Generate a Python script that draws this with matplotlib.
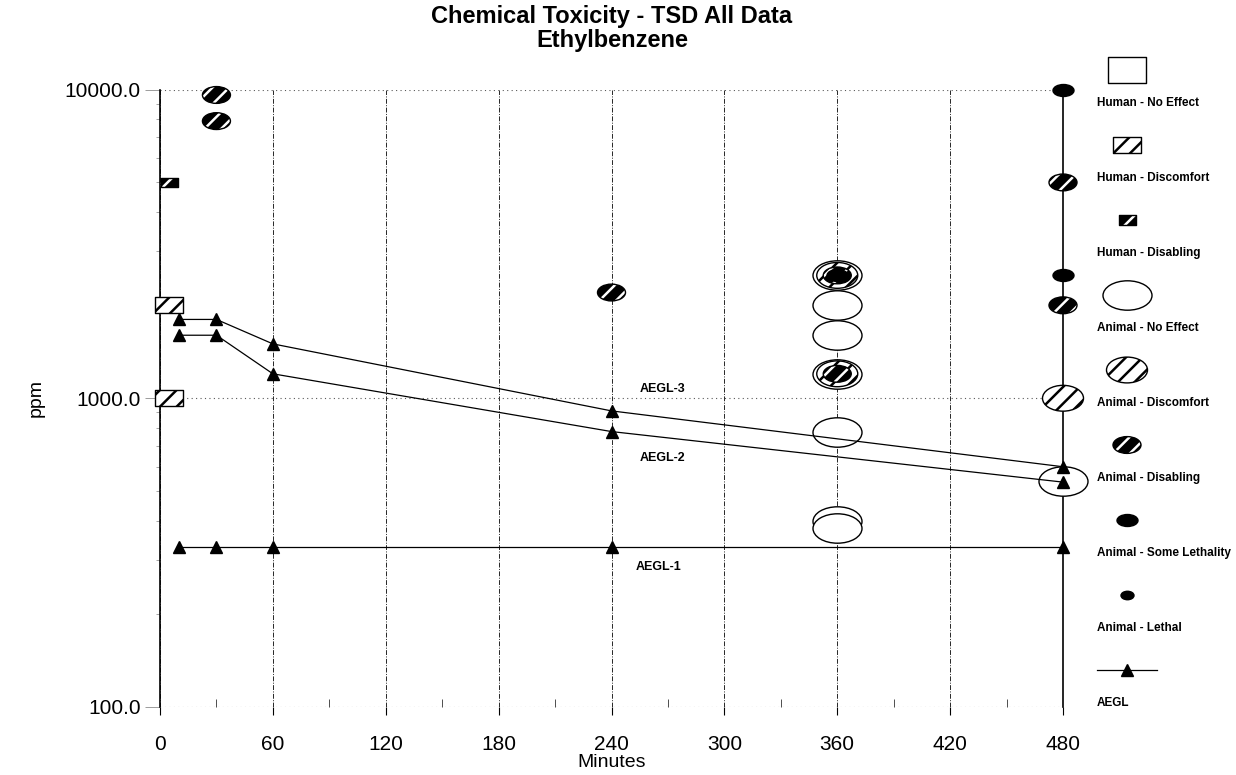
import numpy as np
import matplotlib
matplotlib.use("Agg")
import matplotlib.pyplot as plt
from matplotlib.path import Path
from matplotlib.ticker import FixedLocator, FuncFormatter, LogLocator, NullFormatter

plt.rcParams['font.family'] = ['Liberation Sans', 'DejaVu Sans']
plt.rcParams['hatch.linewidth'] = 1.8

# AEGL levels (ppm) by exposure time (minutes)
aegl_minutes = [10, 30, 60, 240, 480]
aegl_1 = [330, 330, 330, 330, 330]
aegl_2 = [1600, 1600, 1200, 780, 535]
aegl_3 = [1800, 1800, 1500, 910, 600]

# toxicity observations, minutes and ppm per category
human_noeffect_min = []
human_noeffect_ppm = []
human_discomfort_min = [5, 5]
human_discomfort_ppm = [2000, 1000]
human_disabling_min = [5]
human_disabling_ppm = [5000]
animal_noeffect_min = [360, 360, 360, 360, 360, 360, 360, 480]
animal_noeffect_ppm = [2500, 2000, 1600, 1200, 780, 400, 380, 540]
animal_discomfort_min = [360, 360, 480]
animal_discomfort_ppm = [2500, 1200, 1000]
animal_disabling_min = [30, 30, 240, 360, 360, 480, 480]
animal_disabling_ppm = [9600, 7900, 2200, 2500, 1200, 5000, 2000]
animal_somelethal_min = [360, 480, 480]
animal_somelethal_ppm = [2500, 10000, 2500]
animal_lethal_min = []
animal_lethal_ppm = []

PX = 72 / 100  # points per pixel at dpi 100


def ellipse_marker(aspect):
    c = Path.unit_circle()
    return Path(c.vertices * [1, aspect], c.codes)


def rect_marker(aspect):
    v = [[-1, -aspect], [1, -aspect], [1, aspect], [-1, aspect], [-1, -aspect]]
    return Path(v, [Path.MOVETO, Path.LINETO, Path.LINETO, Path.LINETO, Path.CLOSEPOLY])


styles = {
    'Human - No Effect': dict(path=rect_marker(0.66), w=38, face='white'),
    'Human - Discomfort': dict(path=rect_marker(0.57), w=28, face='white', hatch='//', hcol='black'),
    'Human - Disabling': dict(path=rect_marker(0.53), w=17, face='black', hatch='//', hcol='white'),
    'Animal - No Effect': dict(path=ellipse_marker(0.6), w=49, face='white'),
    'Animal - Discomfort': dict(path=ellipse_marker(0.63), w=41, face='white', hatch='//', hcol='black'),
    'Animal - Disabling': dict(path=ellipse_marker(0.6), w=28, face='black', hatch='//', hcol='white'),
    'Animal - Some Lethality': dict(path=ellipse_marker(0.57), w=21, face='black'),
    'Animal - Lethal': dict(path=ellipse_marker(0.65), w=13, face='black'),
}

series = [
    ('Human - No Effect', human_noeffect_min, human_noeffect_ppm),
    ('Human - Discomfort', human_discomfort_min, human_discomfort_ppm),
    ('Human - Disabling', human_disabling_min, human_disabling_ppm),
    ('Animal - No Effect', animal_noeffect_min, animal_noeffect_ppm),
    ('Animal - Discomfort', animal_discomfort_min, animal_discomfort_ppm),
    ('Animal - Disabling', animal_disabling_min, animal_disabling_ppm),
    ('Animal - Some Lethality', animal_somelethal_min, animal_somelethal_ppm),
    ('Animal - Lethal', animal_lethal_min, animal_lethal_ppm),
]


def draw_marks(ax, xs, ys, st, z):
    s = (st['w'] * PX) ** 2
    if st.get('hatch'):
        ax.scatter(xs, ys, s=s, marker=st['path'], facecolor=st['face'],
                   edgecolor=st['hcol'], hatch=st['hatch'], linewidth=0,
                   zorder=z, clip_on=False)
        face = 'none'
    else:
        face = st['face']
    ax.scatter(xs, ys, s=s, marker=st['path'], facecolor=face,
               edgecolor='black', linewidth=1.0, zorder=z + 0.1, clip_on=False)


fig = plt.figure(figsize=(12.36, 7.75), dpi=100)
ax = fig.add_axes([160 / 1236, 1 - 707 / 775, 903 / 1236, (707 - 89.5) / 775])

ax.set_yscale('log')
ax.set_xlim(0, 480)
ax.set_ylim(100, 10000)

for i, (name, xs, ys) in enumerate(series):
    draw_marks(ax, xs, ys, styles[name], 3 + i * 0.2)

for vals in (aegl_1, aegl_2, aegl_3):
    ax.plot(aegl_minutes, vals, color='black', lw=0.9, marker='^', ms=9,
            zorder=6, clip_on=False)

ax.text(267, 1072, 'AEGL-3', ha='center', va='center', fontsize=9, fontweight='bold')
ax.text(267, 640, 'AEGL-2', ha='center', va='center', fontsize=9, fontweight='bold')
ax.text(265, 284, 'AEGL-1', ha='center', va='center', fontsize=9, fontweight='bold')

# axes frame: only left and right sides drawn
for side in ('top', 'bottom'):
    ax.spines[side].set_visible(False)
for side in ('left', 'right'):
    ax.spines[side].set_color('black')
    ax.spines[side].set_linewidth(1.2)

ax.xaxis.set_major_locator(FixedLocator(range(0, 481, 60)))
ax.xaxis.set_minor_locator(FixedLocator(range(30, 481, 60)))
ax.yaxis.set_major_locator(FixedLocator([100, 1000, 10000]))
ax.yaxis.set_major_formatter(FuncFormatter(lambda v, _: f"{v:.1f}"))
ax.yaxis.set_minor_locator(LogLocator(base=10, subs=range(2, 10)))
ax.yaxis.set_minor_formatter(NullFormatter())

ax.tick_params(axis='x', which='major', direction='out', length=6, width=0.8,
               pad=14, labelsize=15, colors='black')
ax.tick_params(axis='x', which='minor', direction='in', length=6, width=0.7,
               color='0.3')
ax.tick_params(axis='y', which='major', direction='out', length=11, width=0.6,
               pad=3, labelsize=15, color='0.55', labelcolor='black')
ax.tick_params(axis='y', which='minor', direction='out', length=3, width=0.5,
               color='0.5')

ax.set_axisbelow(True)
ax.grid(axis='y', which='major', linestyle=(0, (1, 3)), color='0.35', lw=0.8)
ax.grid(axis='x', which='major', linestyle=(0, (5, 1.5, 1, 1.5)), color='0.15', lw=0.7)

ax.set_xlabel('Minutes', fontsize=14, labelpad=0)
ax.set_ylabel('ppm', fontsize=14, labelpad=14)

fig.text(612 / 1236, 1 - 16 / 775, 'Chemical Toxicity - TSD All Data',
         ha='center', va='center', fontsize=17, fontweight='bold')
fig.text(612 / 1236, 1 - 40 / 775, 'Ethylbenzene',
         ha='center', va='center', fontsize=17, fontweight='bold')

# legend column on the right, in pixel coordinates
lax = fig.add_axes([0, 0, 1, 1])
lax.set_xlim(0, 1236)
lax.set_ylim(775, 0)
lax.axis('off')
lax.patch.set_alpha(0)

names = [name for name, _, _ in series] + ['AEGL']
for k, name in enumerate(names):
    my = 70 + 75 * k
    if name == 'AEGL':
        lax.plot([1097, 1157], [my, my], color='black', lw=0.9)
        lax.plot([1127], [my], marker='^', ms=9, color='black')
    else:
        draw_marks(lax, [1127], [my], styles[name], 3)
    lax.text(1097, my + 33, name, ha='left', va='center', fontsize=8.5,
             fontweight='bold')

fig.savefig('out.png', dpi=100)
